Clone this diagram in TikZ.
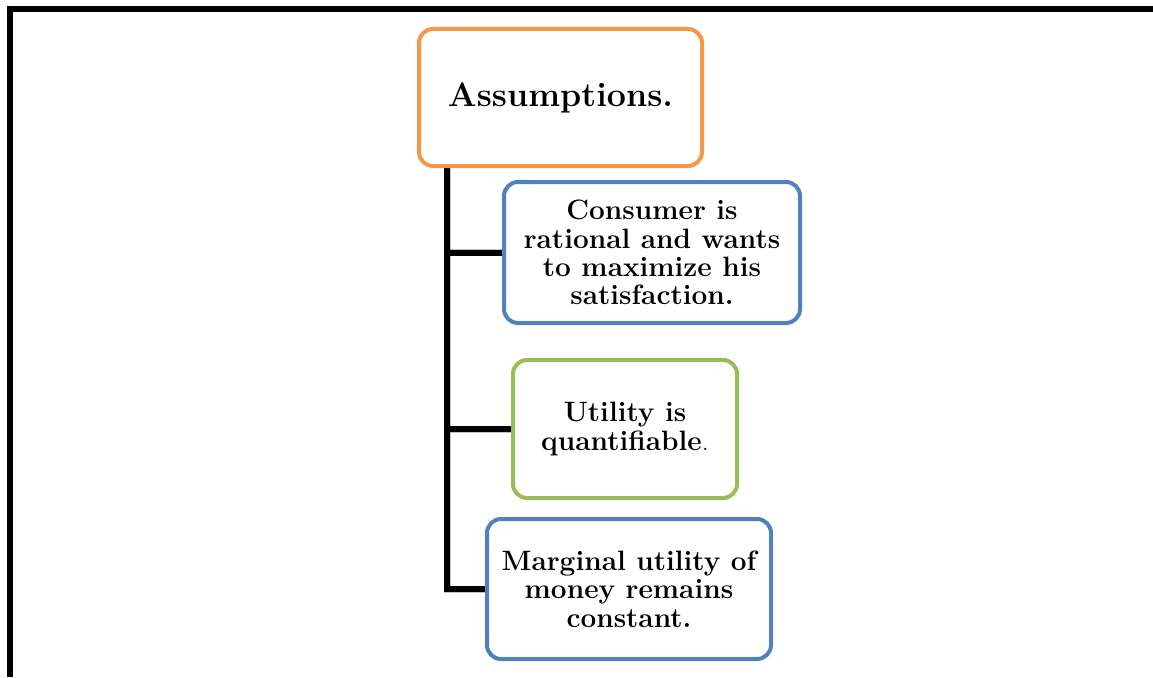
\documentclass[tikz,border=0pt]{standalone}
\usetikzlibrary{backgrounds}
\definecolor{accOrange}{HTML}{F79646}
\definecolor{accBlue}{HTML}{4F81BD}
\definecolor{accGreen}{HTML}{9BBB59}
\begin{document}
\begin{tikzpicture}[x=1pt,y=-1pt,
  box/.style={draw, line width=4pt, rounded corners=14pt, fill=white,
    align=center, inner sep=0pt,
    font=\bfseries\fontsize{28}{28.3}\selectfont},
  trunk/.style={line width=6pt, black, line join=miter},
  trunkshadow/.style={line width=7pt, black!40, opacity=0.6, line join=miter},
  frame/.style={line width=6pt, black, line join=miter}]
\useasboundingbox (0,0) rectangle (1153,677);

% outer frame (top and left edges)
\draw[frame] (1153,9) -- (10,9) -- (10,677);

% heading box
\node[box, draw=accOrange, minimum width=283pt, minimum height=137pt,
  font=\bfseries\fontsize{34}{36}\selectfont] (A) at (560.5,97.5) {Assumptions.};

% the three assumptions
\node[box, draw=accBlue, minimum width=296pt, minimum height=141pt] (B1) at (652,252.5)
  {Consumer is\\rational and wants\\to maximize his\\satisfaction.};
\node[box, draw=accGreen, minimum width=224pt, minimum height=138pt] (B2) at (625,429)
  {Utility is\\quantifiable\textmd{.}};
\node[box, draw=accBlue, minimum width=284pt, minimum height=140pt] (B3) at (629,589)
  {Marginal utility of\\money remains\\constant.};

% tree connector from the heading to each assumption
\coordinate (ttop) at (447,166);
\coordinate (tbot) at (ttop |- B3.west);
\begin{scope}[on background layer]
  \begin{scope}[shift={(2.5,3)}]
    \draw[trunkshadow] (ttop) -- (tbot) -- (B3.west);
    \draw[trunkshadow] (ttop |- B1.west) -- (B1.west);
    \draw[trunkshadow] (ttop |- B2.west) -- (B2.west);
  \end{scope}
  \draw[trunk] (ttop) -- (tbot) -- (B3.west);
  \draw[trunk] (ttop |- B1.west) -- (B1.west);
  \draw[trunk] (ttop |- B2.west) -- (B2.west);
\end{scope}
\end{tikzpicture}
\end{document}
